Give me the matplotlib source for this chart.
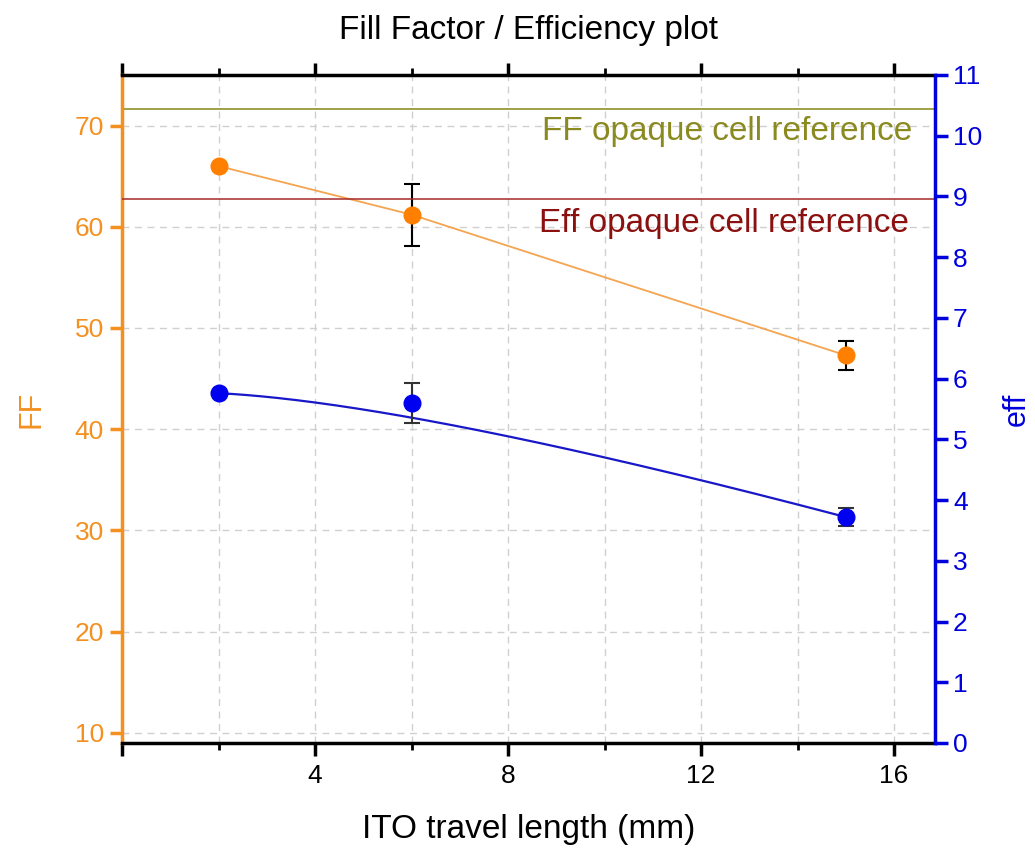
import numpy as np
import matplotlib
matplotlib.use("Agg")
import matplotlib.pyplot as plt
from matplotlib.ticker import MultipleLocator, FuncFormatter

plt.rcParams['font.family'] = ['Liberation Sans', 'DejaVu Sans']

# data
travel = [2, 6, 15]
ff = [66.0, 61.2, 47.3]
ff_err = [0, 3.05, 1.45]
eff = [5.76, 5.60, 3.72]
eff_err = [0, 0.33, 0.15]
ff_ref = 71.65
eff_ref = 8.95

orange = '#F39020'
blue = '#0000DD'

fig = plt.figure(figsize=(10.35, 8.49), dpi=100)
ax = fig.add_axes([0.1179, 0.1249, 0.7855, 0.7868])
ax2 = ax.twinx()

ax.set_xlim(0, 16.85)
ax.set_ylim(9, 75)
ax2.set_ylim(0, 11)

# grid
ax.xaxis.set_major_locator(MultipleLocator(4))
ax.xaxis.set_minor_locator(MultipleLocator(2))
ax.xaxis.set_major_formatter(FuncFormatter(lambda v, pos: '' if v == 0 else '%d' % v))
ax.yaxis.set_major_locator(MultipleLocator(10))
ax2.yaxis.set_major_locator(MultipleLocator(1))
ax.grid(True, which='both', axis='x', ls=(0, (5, 4)), color='#d0d0d0', lw=1)
ax.grid(True, which='major', axis='y', ls=(0, (5, 4)), color='#d0d0d0', lw=1)
ax.set_axisbelow(True)

# reference lines
ax.axhline(ff_ref, color='#9A9A3A', lw=1.3, zorder=2)
ax2.axhline(eff_ref, color='#A52A2A', lw=1.1, zorder=2)
ax.text(16.37, 68.6, 'FF opaque cell reference', color='#8A8A20',
        fontsize=24, ha='right', va='baseline')
ax2.text(16.3, 8.41, 'Eff opaque cell reference', color='#8B1010',
         fontsize=24, ha='right', va='baseline')

# FF series
ax.plot(travel, ff, color='#F5A450', lw=1.3, zorder=3)
ax.errorbar(travel, ff, yerr=ff_err, fmt='none', ecolor='black',
            elinewidth=1.5, capsize=5.5, capthick=1.5, zorder=4)
ax.plot(travel, ff, 'o', color='#FF8000', ms=12, zorder=5)

# eff series, B-spline style curve through the three points
t = np.linspace(0, 1, 200)
p = np.array([travel, eff], dtype=float)
curve = (1 - t) ** 2 * p[:, [0]] + 2 * t * (1 - t) * p[:, [1]] + t ** 2 * p[:, [2]]
ax2.plot(curve[0], curve[1], color='#1818C8', lw=1.6, zorder=3)
ax2.errorbar(travel, eff, yerr=eff_err, fmt='none', ecolor='#333333',
             elinewidth=1.5, capsize=5.5, capthick=1.5, zorder=4)
ax2.plot(travel, eff, 'o', color='#0000F0', ms=12, zorder=5)

# spines and ticks
for s in ['top', 'bottom']:
    ax.spines[s].set_linewidth(2.5)
    ax2.spines[s].set_visible(False)
ax.spines['left'].set_color(orange)
ax.spines['left'].set_linewidth(2.5)
ax.spines['right'].set_visible(False)
ax2.spines['left'].set_visible(False)
ax2.spines['right'].set_color(blue)
ax2.spines['right'].set_linewidth(2.5)

ax.tick_params(axis='x', which='major', direction='out', length=9, width=2.5,
               top=True, labelsize=19, pad=6)
ax.tick_params(axis='x', which='minor', direction='out', length=5, width=2,
               top=True)
ax.tick_params(axis='y', which='major', direction='out', length=9, width=2.5,
               color=orange, labelcolor=orange, labelsize=19, pad=4)
ax2.tick_params(axis='y', which='major', direction='out', length=9, width=2.5,
                color=blue, labelcolor=blue, labelsize=19, pad=4)

ax.set_xlabel('ITO travel length (mm)', fontsize=24, labelpad=19)
ax.set_ylabel('FF', fontsize=22, color=orange, labelpad=20)
ax2.set_ylabel('eff', fontsize=22, color=blue, labelpad=14)
ax.set_title('Fill Factor / Efficiency plot', fontsize=24, pad=26)

fig.savefig('out.png', dpi=100)
